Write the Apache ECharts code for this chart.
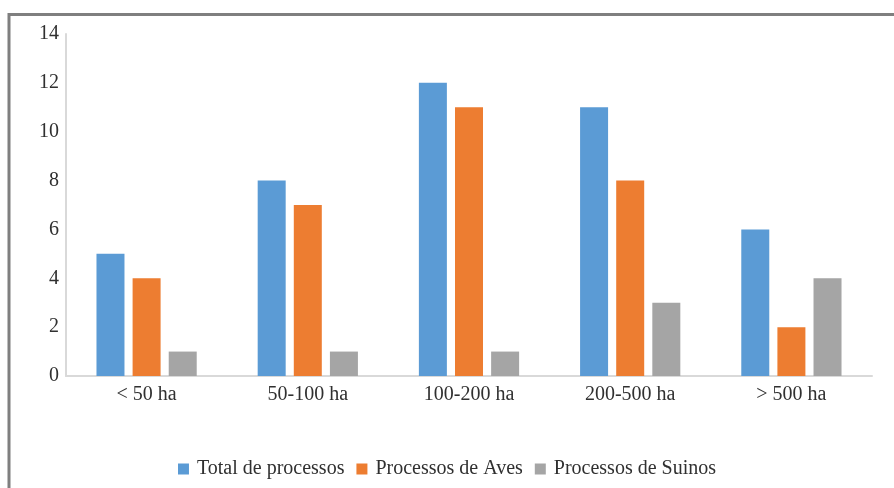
<!DOCTYPE html>
<html>
<head>
<meta charset="utf-8">
<script src="https://cdn.jsdelivr.net/npm/echarts@6/dist/echarts.min.js"></script>
<style>
  html, body { margin: 0; padding: 0; background: #fff; }
  #chart { width: 894px; height: 488px; }
</style>
</head>
<body>
<div id="chart"></div>
<script>
// Area classes and number of processes per class
const categories = ['< 50 ha', '50-100 ha', '100-200 ha', '200-500 ha', '> 500 ha'];
const totalProcessos = [5, 8, 12, 11, 6];
const processosAves = [4, 7, 11, 8, 2];
const processosSuinos = [1, 1, 1, 3, 4];
const yTicks = [0, 2, 4, 6, 8, 10, 12, 14];

const seriesNames = ['Total de processos', 'Processos de Aves', 'Processos de Suinos'];
const seriesColors = ['#5b9bd5', '#ed7d31', '#a5a5a5'];
const seriesData = [totalProcessos, processosAves, processosSuinos];

const textFont = { fontFamily: 'Liberation Serif', color: '#303030' };

const chart = echarts.init(document.getElementById('chart'), null, { renderer: 'canvas' });
chart.setOption({
  backgroundColor: '#fff',
  animation: false,
  graphic: [{
    type: 'rect',
    shape: { x: 9, y: 14.5, width: 1000, height: 1000 },
    style: { fill: 'none', stroke: '#7f7f7f', lineWidth: 3 },
    silent: true
  }],
  grid: { left: 66, right: 22, top: 34, bottom: 112, containLabel: false },
  legend: {
    top: 454,
    left: 'center',
    itemWidth: 11,
    itemHeight: 11,
    itemGap: 12,
    icon: 'rect',
    textStyle: Object.assign({ fontSize: 20, padding: [0, 0, 0, 3] }, textFont),
    data: seriesNames
  },
  xAxis: {
    type: 'category',
    data: categories,
    axisLine: { lineStyle: { color: '#d9d9d9', width: 2 } },
    axisTick: { show: false },
    axisLabel: Object.assign({ fontSize: 20, margin: 9 }, textFont)
  },
  yAxis: {
    type: 'value',
    min: yTicks[0],
    max: yTicks[yTicks.length - 1],
    interval: yTicks[1] - yTicks[0],
    axisLine: { show: true, lineStyle: { color: '#d9d9d9', width: 2 } },
    axisTick: { show: false },
    splitLine: { show: false },
    axisLabel: Object.assign({ fontSize: 20, margin: 7 }, textFont)
  },
  series: seriesNames.map((name, i) => ({
    name: name,
    type: 'bar',
    data: seriesData[i],
    barWidth: 28,
    barGap: '29%',
    itemStyle: { color: seriesColors[i] }
  }))
});
</script>
</body>
</html>
